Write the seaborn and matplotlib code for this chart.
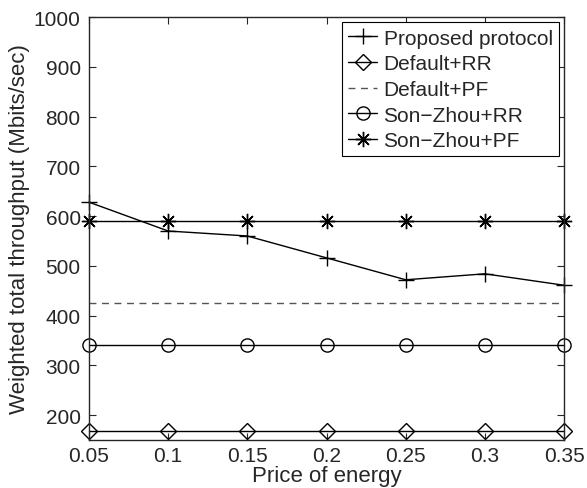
import numpy as np
import pandas as pd
import matplotlib
matplotlib.use("Agg")
import matplotlib.pyplot as plt
import seaborn as sns

# valores
price = [0.05, 0.1, 0.15, 0.2, 0.25, 0.3, 0.35]
proposed = [628, 570, 560, 516, 472, 484, 461]
default_rr = [168, 168, 168, 168, 168, 168, 168]
default_pf = [426, 426, 426, 426, 426, 426, 426]
sonzhou_rr = [341, 341, 341, 341, 341, 341, 341]
sonzhou_pf = [591, 591, 591, 591, 591, 591, 591]

sns.set_style("ticks")
plt.rcParams['font.family'] = ['Liberation Sans', 'DejaVu Sans']
plt.rcParams['xtick.direction'] = 'in'
plt.rcParams['ytick.direction'] = 'in'

fig = plt.figure(figsize=(5.87, 4.89), dpi=100)
ax = fig.add_axes([0.1516, 0.0982, 0.8094, 0.8648])

series = [
    ("Proposed protocol", proposed, dict(marker='+', markersize=11, linestyle='-')),
    ("Default+RR", default_rr, dict(marker='D', markersize=8.5, linestyle='-', markerfacecolor='none')),
    ("Default+PF", default_pf, dict(marker=None, linestyle=(0, (5, 4)))),
    ("Son\u2212Zhou+RR", sonzhou_rr, dict(marker='o', markersize=9.5, linestyle='-', markerfacecolor='none')),
    ("Son\u2212Zhou+PF", sonzhou_pf, dict(marker=(8, 2, 0), markersize=11, linestyle='-')),
]

for name, vals, style in series:
    df = pd.DataFrame({"price": price, "val": vals})
    col = '#555555' if name == "Default+PF" else 'black'
    sns.lineplot(data=df, x="price", y="val", ax=ax, label=name, linewidth=1.0,
                 color=col, markeredgecolor='black', markeredgewidth=1.0,
                 clip_on=False, **style)

ax.set_xlim(0.05, 0.35)
ax.set_ylim(150, 1000)
ax.set_xticks(price)
ax.set_xticklabels(["0.05", "0.1", "0.15", "0.2", "0.25", "0.3", "0.35"])
ax.set_yticks([200, 300, 400, 500, 600, 700, 800, 900, 1000])
ax.tick_params(labelsize=15, top=True, right=True, length=5, width=0.8, pad=6)
ax.tick_params(axis='x', pad=4.5)
for s in ax.spines.values():
    s.set_linewidth(1.0)

ax.set_xlabel("Price of energy", fontsize=16, labelpad=-0.5)
ax.set_ylabel("Weighted total throughput (Mbits/sec)", fontsize=16, labelpad=3)

leg = ax.legend(loc='upper right', fontsize=15, frameon=True, fancybox=False,
                edgecolor='black', framealpha=1, handlelength=1.4, handletextpad=0.3,
                borderpad=0.3, labelspacing=0.32, borderaxespad=0.25)
leg.get_frame().set_linewidth(0.8)

plt.savefig("out.png", dpi=100)
